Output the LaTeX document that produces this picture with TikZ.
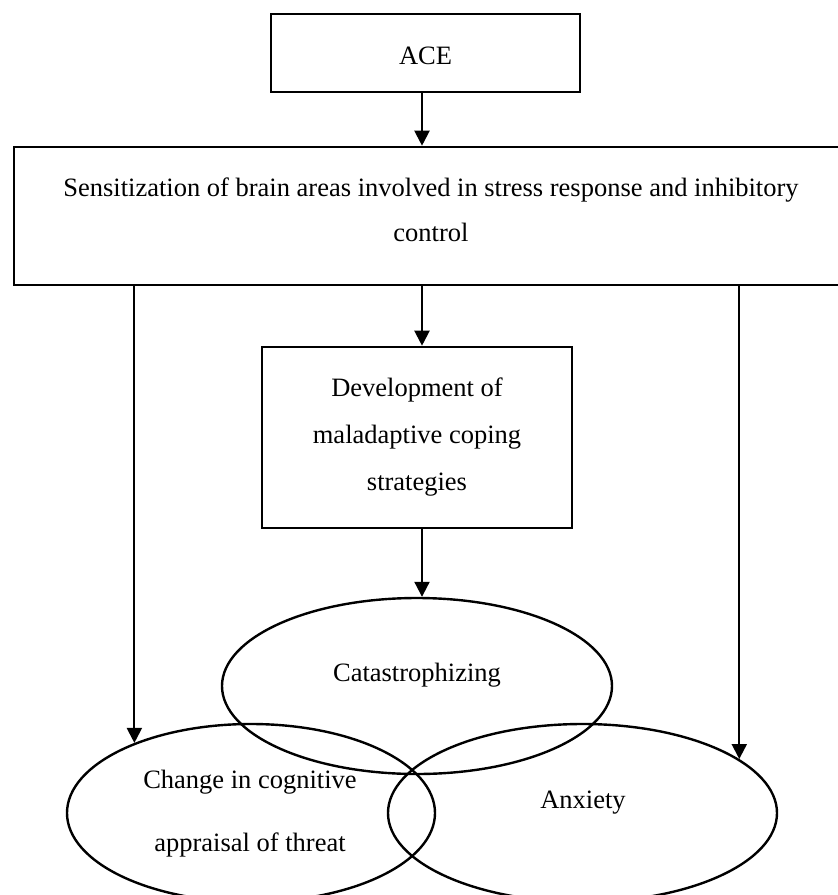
\documentclass[tikz,border=0pt]{standalone}
\usepackage{fontspec}
\setmainfont{Liberation Serif}
\usetikzlibrary{shapes.geometric,arrows.meta}
\begin{document}
\begin{tikzpicture}[x=1pt,y=-1pt,
  box/.style={draw,line width=2.6pt,rectangle,inner sep=0pt},
  oval/.style={draw,line width=2.4pt,ellipse,inner sep=0pt},
  txt/.style={font=\fontsize{26.5}{45}\selectfont,inner sep=0pt,align=center},
  arr/.style={line width=2.1pt,-{Triangle[length=15pt,width=15pt]}}]
\clip (0,0) rectangle (838,895);
\useasboundingbox (0,0) rectangle (838,895);
% shapes
\node[box,minimum width=309pt,minimum height=78pt] (ace) at (425.5,53) {};
\node[box,minimum width=840pt,minimum height=138pt] (big) at (434,216) {};
\node[box,minimum width=310pt,minimum height=181pt] (dev) at (417,437.5) {};
\node[oval,minimum width=390pt,minimum height=176pt] (cat) at (417,686) {};
\node[oval,minimum width=368pt,minimum height=178pt] (chg) at (251,813) {};
\node[oval,minimum width=389pt,minimum height=178pt] (anx) at (582.5,813) {};
% texts
\node[txt,anchor=base] (acet) at (425.5,64) {ACE};
\node[txt,anchor=base] (bigt1) at (431,196) {Sensitization of brain areas involved in stress response and inhibitory};
\node[txt,anchor=base] (bigt2) at (431,241) {control};
\node[txt,anchor=base] (devt1) at (417,396) {Development of};
\node[txt,anchor=base] (devt2) at (417,443) {maladaptive coping};
\node[txt,anchor=base] (devt3) at (417,490) {strategies};
\node[txt,anchor=base] (catt) at (417,681) {Catastrophizing};
\node[txt,anchor=base] (chgt1) at (250,788) {Change in cognitive};
\node[txt,anchor=base] (chgt2) at (250,851) {appraisal of threat};
\node[txt,anchor=base] (anxt) at (583,808) {Anxiety};
% connectors
\coordinate (axis) at (422,0);
\draw[arr] (ace.south -| axis) -- (big.north -| axis);
\draw[arr] (big.south -| axis) -- (dev.north -| axis);
\draw[arr] (dev.south -| axis) -- (axis |- cat.north);
\draw[arr] (chg.149.6 |- big.south) -- (chg.149.6);
\draw[arr] (anx.19 |- big.south) -- (anx.19);
\end{tikzpicture}
\end{document}
